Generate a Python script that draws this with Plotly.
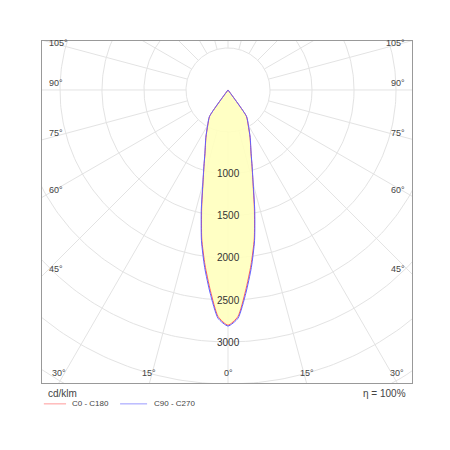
import numpy as np
import plotly.graph_objects as go

# luminous intensity, cd/klm, gamma angle in degrees (0 = straight down)
gamma = [0, 2.5, 5, 7.5, 10, 12.5, 15, 17.5, 20, 25, 30, 35, 40, 60, 90, 120, 150, 180]
c0_c180 = [2800, 2700, 2400, 2100, 1800, 1450, 1150, 950, 800, 620, 480, 380, 0, 0, 0, 0, 0, 0]
c90_c270 = [2810, 2720, 2430, 2130, 1820, 1470, 1160, 955, 805, 625, 485, 385, 0, 0, 0, 0, 0, 0]

ring_values = [500, 1000, 1500, 2000, 2500, 3000, 3500, 4000, 4500, 5000]
ring_labels = [1000, 1500, 2000, 2500, 3000]
spoke_angles = list(range(0, 360, 15))
side_labels = [105, 90, 75, 60, 45]
bottom_labels = [30, 15, 0]

X0, X1, Y0, Y1 = -2214, 2190, -3488, 583
grid = '#e3e3e3'


def curve(vals):
    # mirror both halves of the plane: angle measured from downward axis
    ang = np.radians(np.array(gamma, float))
    v = np.array(vals, float)
    a = np.concatenate([-ang[::-1], ang[1:]])
    r = np.concatenate([v[::-1], v[1:]])
    return r * np.sin(a), -r * np.cos(a)


fig = go.Figure()
t = np.linspace(0, 2 * np.pi, 361)
for rv in ring_values:
    fig.add_trace(go.Scatter(x=rv * np.cos(t), y=rv * np.sin(t), mode='lines',
                             line=dict(color=grid, width=1), hoverinfo='skip'))
for a in spoke_angles:
    ar = np.radians(a)
    fig.add_trace(go.Scatter(x=[500 * np.sin(ar), 8000 * np.sin(ar)],
                             y=[-500 * np.cos(ar), -8000 * np.cos(ar)], mode='lines',
                             line=dict(color=grid, width=1), hoverinfo='skip'))

x, y = curve(c0_c180)
fig.add_trace(go.Scatter(x=x, y=y, mode='lines', fill='toself', fillcolor='rgba(255,255,190,0.9)',
                         line=dict(color='#ff5a5a', width=1, shape='spline', smoothing=0.6)))
x2, y2 = curve(c90_c270)
fig.add_trace(go.Scatter(x=x2, y=y2, mode='lines',
                         line=dict(color='#6060ff', width=1, shape='spline', smoothing=0.6)))

ann = []
for v in ring_labels:
    ann.append(dict(x=0, y=-v, text=str(v), showarrow=False, font=dict(size=10, color='#333')))
for a in side_labels:
    yy = -abs(X0) / np.tan(np.radians(a)) if a != 90 else 0
    yy = min(yy, Y1 - 110)
    for sx, anc in [(X0 + 60, 'left'), (X1 - 60, 'right')]:
        ann.append(dict(x=sx, y=yy, text=f'{a}°', xanchor=anc, yanchor='bottom', showarrow=False,
                        font=dict(size=9, color='#444')))
for a in bottom_labels:
    xx = abs(Y0) * np.tan(np.radians(a))
    xx = min(xx, X1 - 150)
    for sx in ([xx, -xx] if a else [0]):
        ann.append(dict(x=sx, y=Y0 + 40, text=f'{a}°', yanchor='bottom', showarrow=False,
                        font=dict(size=9, color='#444')))

ann += [
    dict(xref='paper', yref='paper', x=0.01, y=-0.01, text='cd/klm', xanchor='left', yanchor='top',
         showarrow=False, font=dict(size=10, color='#444')),
    dict(xref='paper', yref='paper', x=0.99, y=-0.01, text='η = 100%', xanchor='right', yanchor='top',
         showarrow=False, font=dict(size=10, color='#444')),
    dict(xref='paper', yref='paper', x=0.076, y=-0.061, text='C0 - C180', xanchor='left', yanchor='middle',
         showarrow=False, font=dict(size=8, color='#444')),
    dict(xref='paper', yref='paper', x=0.297, y=-0.061, text='C90 - C270', xanchor='left', yanchor='middle',
         showarrow=False, font=dict(size=8, color='#444')),
]
shapes = [
    dict(type='line', xref='paper', yref='paper', x0=0.005, x1=0.065, y0=-0.061, y1=-0.061,
         line=dict(color='#ff9a9a', width=1)),
    dict(type='line', xref='paper', yref='paper', x0=0.211, x1=0.284, y0=-0.061, y1=-0.061,
         line=dict(color='#9a9aff', width=1)),
]

fig.update_layout(
    width=450, height=450, showlegend=False, plot_bgcolor='white', paper_bgcolor='white',
    margin=dict(l=34, r=46, t=33, b=75), annotations=ann, shapes=shapes,
    font=dict(family='Liberation Sans, Arial, sans-serif'),
    xaxis=dict(range=[X0, X1], showgrid=False, zeroline=False, showticklabels=False,
               showline=True, linecolor='#999', mirror=True),
    yaxis=dict(range=[Y0, Y1], showgrid=False, zeroline=False, showticklabels=False,
               showline=True, linecolor='#999', mirror=True),
)
fig.write_html("out.html")
